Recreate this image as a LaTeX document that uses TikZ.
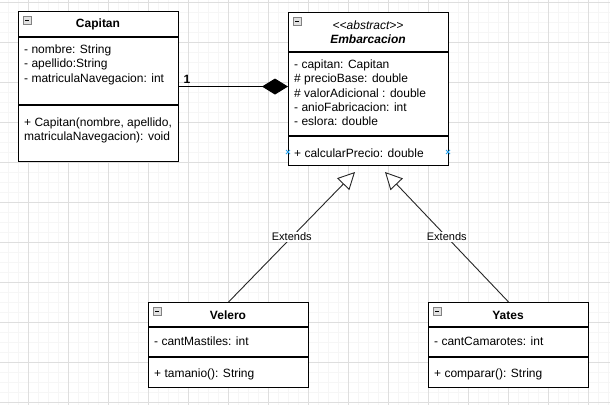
\documentclass[tikz,border=0pt]{standalone}
\usepackage{fontspec}
\setmainfont{Liberation Sans}
\usetikzlibrary{arrows.meta}
\definecolor{gridmajor}{RGB}{222,222,222}
\definecolor{gridminor}{RGB}{246,246,246}
\definecolor{selblue}{RGB}{41,161,236}
\definecolor{icongray}{RGB}{225,225,225}
\definecolor{iconedge}{RGB}{130,130,130}
\begin{document}
\begin{tikzpicture}[x=1pt,y=-1pt,
  font=\fontsize{12}{14}\selectfont,
  classbox/.style={draw=black, fill=white, line width=1.1pt, anchor=north west, inner sep=0pt},
  sepline/.style={draw=black, line width=1.1pt},
  txt/.style={anchor=west, inner sep=0pt},
  title/.style={inner sep=0pt, font=\fontsize{12}{14}\selectfont\bfseries},
  extlabel/.style={fill=white, inner sep=1pt, font=\fontsize{11}{13}\selectfont},
  inherit/.style={draw=black!85, line width=0.9pt, -{Triangle[open, length=17pt, width=17pt, fill=white]}},
  compose/.style={draw=black, line width=1.1pt, -{Diamond[length=26pt, width=16pt]}},
  selmark/.style={draw=selblue, line width=0.9pt}
]
% background and grid
\useasboundingbox (0,0) rectangle (610,405);
\fill[white] (0,0) rectangle (610,405);
\foreach \x in {8,18,...,608} \draw[gridminor, line width=0.8pt] (\x,0) -- (\x,405);
\foreach \y in {2,12,...,402} \draw[gridminor, line width=0.8pt] (0,\y) -- (610,\y);
\foreach \x in {28,68,...,588} \draw[gridmajor, line width=0.8pt] (\x,0) -- (\x,405);
\foreach \y in {2,42,...,402} \draw[gridmajor, line width=0.8pt] (0,\y) -- (610,\y);

% ---------- Capitan ----------
\node[classbox, minimum width=160pt, minimum height=150pt] (capitan) at (18,11) {};
\draw[sepline] ([yshift=-26pt]capitan.north west) -- ([yshift=-26pt]capitan.north east);
\draw[sepline] ([yshift=-94pt]capitan.north west) -- ([yshift=-94pt]capitan.north east);
\draw[iconedge, fill=icongray, line width=0.6pt] (23,16) rectangle (31,24);
\draw[black, line width=0.9pt] (25,20) -- (29,20);
\node[title] (capitanT) at (98,24) {Capitan};
\node[txt] (c1) at (24,50) {- nombre: String};
\node[txt] (c2) at (24,64.5) {- apellido:String};
\node[txt] (c3) at (24,79) {- matriculaNavegacion: int};
\node[txt] (c4) at (24,123) {+ Capitan(nombre, apellido,};
\node[txt] (c5) at (24,137) {matriculaNavegacion): void};

% ---------- Embarcacion ----------
\node[classbox, minimum width=160pt, minimum height=153pt] (emb) at (288,12) {};
\draw[sepline] ([yshift=-40pt]emb.north west) -- ([yshift=-40pt]emb.north east);
\draw[sepline] ([yshift=-124pt]emb.north west) -- ([yshift=-124pt]emb.north east);
\draw[iconedge, fill=icongray, line width=0.6pt] (293,17) rectangle (301,25);
\draw[black, line width=0.9pt] (295,21) -- (299,21);
\node[inner sep=0pt, font=\fontsize{12}{14}\selectfont\itshape] (embS) at (368,25) {{<}{<}abstract{>}{>}};
\node[inner sep=0pt, font=\fontsize{12}{14}\selectfont\bfseries\itshape] (embT) at (368,39) {Embarcacion};
\node[txt] (e1) at (294,65) {- capitan: Capitan};
\node[txt] (e2) at (294,79) {\# precioBase: double};
\node[txt] (e3) at (294,93) {\# valorAdicional : double};
\node[txt] (e4) at (294,107) {- anioFabricacion: int};
\node[txt] (e5) at (294,121) {- eslora: double};
\node[txt] (e6) at (294,153) {+ calcularPrecio: double};
\draw[selmark] (286,150) -- (290,154) (286,154) -- (290,150);
\draw[selmark] (446,150) -- (450,154) (446,154) -- (450,150);

% ---------- Velero ----------
\node[classbox, minimum width=160pt, minimum height=85pt] (velero) at (148,302) {};
\draw[sepline] ([yshift=-25pt]velero.north west) -- ([yshift=-25pt]velero.north east);
\draw[sepline] ([yshift=-55pt]velero.north west) -- ([yshift=-55pt]velero.north east);
\draw[iconedge, fill=icongray, line width=0.6pt] (153,307) rectangle (161,315);
\draw[black, line width=0.9pt] (155,311) -- (159,311);
\node[title] (veleroT) at (228,315) {Velero};
\node[txt] (v1) at (154,341) {- cantMastiles: int};
\node[txt] (v2) at (154,374) {+ tamanio(): String};

% ---------- Yates ----------
\node[classbox, minimum width=160pt, minimum height=85pt] (yates) at (428,302) {};
\draw[sepline] ([yshift=-25pt]yates.north west) -- ([yshift=-25pt]yates.north east);
\draw[sepline] ([yshift=-55pt]yates.north west) -- ([yshift=-55pt]yates.north east);
\draw[iconedge, fill=icongray, line width=0.6pt] (433,307) rectangle (441,315);
\draw[black, line width=0.9pt] (435,311) -- (439,311);
\node[title] (yatesT) at (508,315) {Yates};
\node[txt] (y1) at (434,341) {- cantCamarotes: int};
\node[txt] (y2) at (434,374) {+ comparar(): String};

% ---------- connectors ----------
\draw[compose] (capitan.east) -- (capitan.east -| emb.west);
\node[inner sep=0pt, font=\fontsize{12}{14}\selectfont\bfseries] (mult) at (187,79) {1};

\coordinate (tipL) at (355,172);
\coordinate (tipR) at (385,172);
\draw[inherit] (velero.north) -- node[extlabel] (extL) {Extends} (tipL);
\draw[inherit] (yates.north) -- node[extlabel] (extR) {Extends} (tipR);
\end{tikzpicture}
\end{document}
